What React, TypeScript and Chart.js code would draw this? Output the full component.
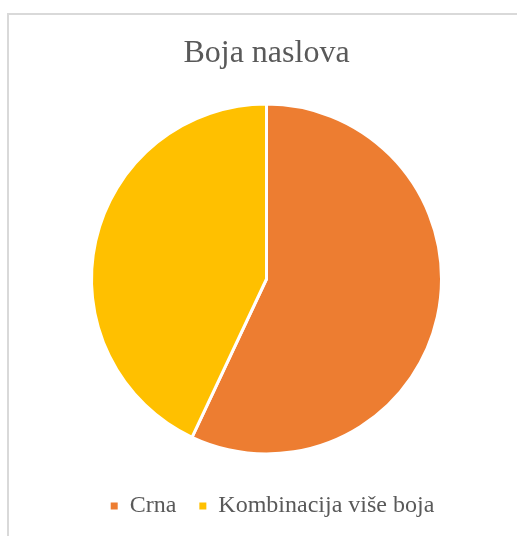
import React, { useEffect, useRef } from "react";
import { Chart, registerables } from "chart.js";

Chart.register(...registerables);

const titleText = "Boja naslova";
const categories = ["Crna", "Kombinacija više boja"];
const values = [57, 43];
const colors = ["#ED7D31", "#FFC000"];

const FONT = "'Times New Roman', 'Liberation Serif', serif";
const TEXT_COLOR = "#595959";

const legendShift = {
  id: "legendShift",
  afterLayout(chart: any) {
    if (chart.legend) {
      chart.legend.left += 6;
      chart.legend.right += 6;
    }
  },
};

export default function App() {
  const ref = useRef<HTMLCanvasElement | null>(null);
  useEffect(() => {
    if (!ref.current) return;
    const chart = new Chart(ref.current, {
      type: "pie",
      data: {
        labels: categories,
        datasets: [
          {
            data: values,
            backgroundColor: colors,
            borderColor: "#ffffff",
            borderWidth: 3,
            radius: 175,
          } as any,
        ],
      },
      plugins: [legendShift],
      options: {
        responsive: false,
        animation: false,
        layout: { padding: { left: 7, bottom: 8 } },
        plugins: {
          title: {
            display: true,
            text: titleText,
            color: TEXT_COLOR,
            font: { family: FONT, size: 32, weight: "normal" },
            padding: { top: 19, bottom: 14.6 },
          },
          legend: {
            display: true,
            position: "bottom",
            labels: {
              color: TEXT_COLOR,
              font: { family: FONT, size: 24 },
              boxWidth: 7,
              boxHeight: 7,
              padding: 23,
              generateLabels: (c: any) => {
                const base = (Chart as any).overrides.pie.plugins.legend.labels.generateLabels(c);
                return base.map((it: any) => ({ ...it, lineWidth: 0 }));
              },
            },
          },
          tooltip: { enabled: false },
        },
      },
    });
    return () => chart.destroy();
  }, []);

  return (
    <div
      style={{
        position: "absolute",
        left: 7,
        top: 13,
        borderTop: "2px solid #d9d9d9",
        borderLeft: "2px solid #d9d9d9",
        width: 508,
        height: 521,
        background: "#ffffff",
      }}
    >
      <canvas ref={ref} width={508} height={521} style={{ display: "block" }} />
    </div>
  );
}
